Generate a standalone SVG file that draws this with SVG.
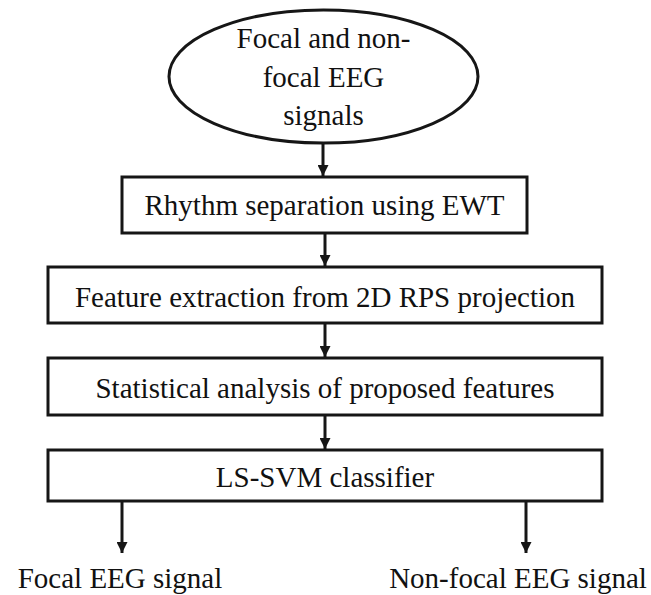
<svg xmlns="http://www.w3.org/2000/svg" width="651" height="595" viewBox="0 0 651 595">
  <style>
    .shape { fill: #fff; stroke: #161616; stroke-width: 3; }
    .lbl { font-family: "Liberation Serif", "Times New Roman", serif; font-size: 29px; fill: #111; text-anchor: middle; }
    .wire { stroke: #161616; stroke-width: 3; fill: none; marker-end: url(#head); }
  </style>
  <defs>
    <marker id="head" viewBox="0 0 10 10" refX="10" refY="5" markerWidth="11" markerHeight="11" markerUnits="userSpaceOnUse" orient="auto">
      <path d="M0,0 L10,5 L0,10 Z" fill="#161616"/>
    </marker>
  </defs>
  <rect width="651" height="595" fill="#fff"/>

  <g id="connectors">
    <line class="wire" x1="323" y1="143" x2="323" y2="176"/>
    <line class="wire" x1="325" y1="233" x2="325" y2="266"/>
    <line class="wire" x1="325" y1="323" x2="325" y2="357"/>
    <line class="wire" x1="325" y1="415" x2="325" y2="449"/>
    <line class="wire" x1="122" y1="501" x2="122" y2="553"/>
    <line class="wire" x1="526" y1="501" x2="526" y2="553"/>
  </g>

  <g id="input">
    <ellipse class="shape" cx="323.5" cy="76.5" rx="154.5" ry="66.5"/>
    <text class="lbl" x="323.5" y="48">Focal and non-</text>
    <text class="lbl" x="323.5" y="87">focal EEG</text>
    <text class="lbl" x="323.5" y="125">signals</text>
  </g>

  <g id="rhythm">
    <rect class="shape" x="122" y="177" width="405" height="56"/>
    <text class="lbl" x="324.5" y="215">Rhythm separation using EWT</text>
  </g>

  <g id="features">
    <rect class="shape" x="48" y="267" width="554" height="56"/>
    <text class="lbl" x="325" y="307">Feature extraction from 2D RPS projection</text>
  </g>

  <g id="statistics">
    <rect class="shape" x="48" y="358" width="554" height="57"/>
    <text class="lbl" x="325" y="398">Statistical analysis of proposed features</text>
  </g>

  <g id="classifier">
    <rect class="shape" x="48" y="450" width="554" height="51"/>
    <text class="lbl" x="325" y="487">LS-SVM classifier</text>
  </g>

  <g id="focal">
    <text class="lbl" x="120" y="588">Focal EEG signal</text>
  </g>

  <g id="nonfocal">
    <text class="lbl" x="518" y="588">Non-focal EEG signal</text>
  </g>
</svg>
